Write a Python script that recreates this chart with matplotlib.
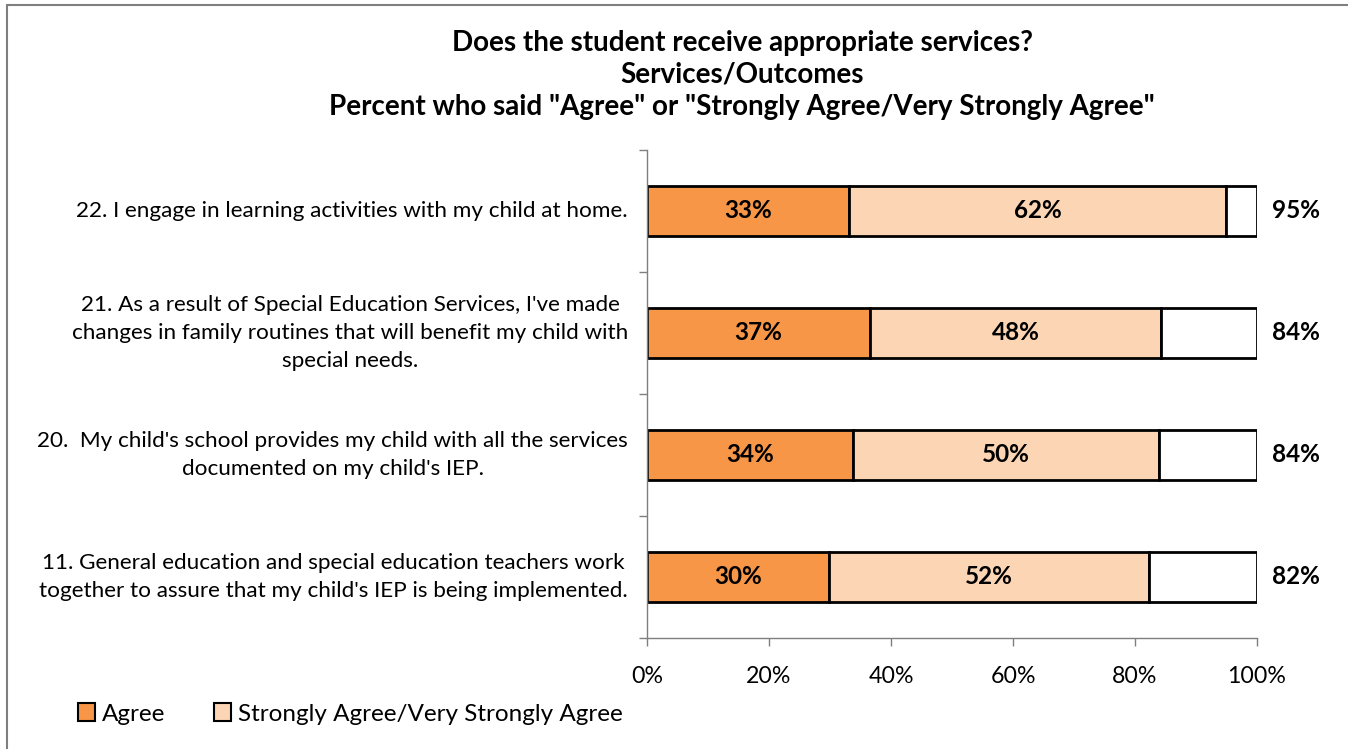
import matplotlib
matplotlib.use("Agg")
import matplotlib.pyplot as plt
from matplotlib.patches import Rectangle, Patch

# Survey items (bottom to top)
items = [
    "11. General education and special education teachers work\ntogether to assure that my child's IEP is being implemented.",
    "20.  My child's school provides my child with all the services\ndocumented on my child's IEP.",
    "21. As a result of Special Education Services, I've made\nchanges in family routines that will benefit my child with\nspecial needs.",
    "22. I engage in learning activities with my child at home.",
]
agree = [29.9, 33.8, 36.6, 33.1]
strongly_agree = [52.4, 50.2, 47.7, 61.8]
xtick_values = [0, 20, 40, 60, 80, 100]
legend_labels = ["Agree", "Strongly Agree/Very Strongly Agree"]
title_lines = [
    "Does the student receive appropriate services?",
    "Services/Outcomes",
    'Percent who said "Agree" or "Strongly Agree/Very Strongly Agree"',
]

C_AGREE = "#F79646"
C_STRONG = "#FCD5B4"

plt.rcParams["font.family"] = ["Lato", "DejaVu Sans"]

W, H = 1348, 749
fig = plt.figure(figsize=(W / 100, H / 100), dpi=100)

# outer chart frame
fig.patches.append(Rectangle((7 / W, -0.05), 1.2, (H - 5) / H + 0.05,
                             transform=fig.transFigure, fill=False,
                             edgecolor="#7f7f7f", linewidth=1.5))

ax = fig.add_axes([647 / W, (H - 638) / H, (1257 - 647) / W, (638 - 150) / H])

pos = list(range(len(items)))
bh = 0.41
totals = [a + s for a, s in zip(agree, strongly_agree)]
remain = [100 - t for t in totals]

ax.barh(pos, agree, height=bh, color=C_AGREE, edgecolor="black", linewidth=2)
ax.barh(pos, strongly_agree, left=agree, height=bh, color=C_STRONG,
        edgecolor="black", linewidth=2)
ax.barh(pos, remain, left=totals, height=bh, color="white",
        edgecolor="black", linewidth=2)

for p, a, s, t in zip(pos, agree, strongly_agree, totals):
    ax.text(a / 2, p, f"{a:.0f}%", ha="center", va="center",
            fontsize=17.5, fontweight="bold")
    ax.text(a + s / 2, p, f"{s:.0f}%", ha="center", va="center",
            fontsize=17.5, fontweight="bold")
    ax.text(102.5, p, f"{t:.0f}%", ha="left", va="center",
            fontsize=17.5, fontweight="bold")

ax.set_xlim(0, 100)
ax.set_ylim(-0.5, len(items) - 0.5)
ax.set_xticks(xtick_values)
ax.set_xticklabels([f"{v}%" for v in xtick_values], fontsize=16.7)
ax.set_yticks([p - 0.5 for p in pos] + [len(items) - 0.5])
ax.set_yticklabels([])
ax.tick_params(axis="both", direction="out", length=6, color="#7f7f7f", width=1)
ax.tick_params(axis="x", pad=14)
for p, lab in zip(pos, items):
    ax.text(-0.031, p, lab, transform=ax.get_yaxis_transform(), ha="right",
            va="center", multialignment="center", fontsize=16.2,
            linespacing=1.5)

for side in ["top", "right"]:
    ax.spines[side].set_visible(False)
for side in ["left", "bottom"]:
    ax.spines[side].set_color("#7f7f7f")
    ax.spines[side].set_linewidth(1)

# title lines
ys = [43, 75, 107]
for line, cy in zip(title_lines, ys):
    fig.text(742 / W, 1 - cy / H, line, ha="center", va="center",
             fontsize=20, fontweight="bold")

handles = [Patch(facecolor=C_AGREE, edgecolor="black", linewidth=1.5),
           Patch(facecolor=C_STRONG, edgecolor="black", linewidth=1.5)]
fig.legend(handles, legend_labels, loc="center left",
           bbox_to_anchor=(56 / W, 1 - 714 / H), ncol=2, frameon=False,
           fontsize=17.5, handlelength=0.7, handleheight=0.7,
           handletextpad=0.3, columnspacing=2.0)

fig.savefig("out.png", dpi=100)
